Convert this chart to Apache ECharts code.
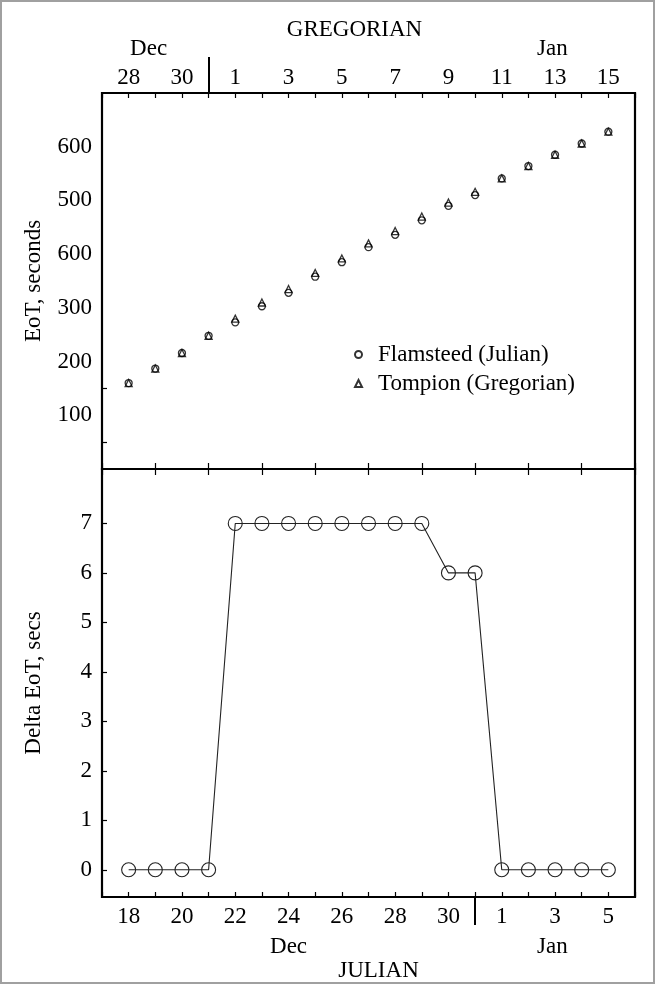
<!DOCTYPE html>
<html>
<head>
<meta charset="utf-8">
<script src="https://cdn.jsdelivr.net/npm/echarts@6/dist/echarts.min.js"></script>
<style>
  html, body { margin: 0; padding: 0; background: #fff; }
  #wrap { position: relative; width: 655px; height: 984px; }
  #chart { width: 655px; height: 984px; }
  #frame { position: absolute; left: 0; top: 0; width: 655px; height: 984px; box-sizing: border-box;
           border: 2px solid #a0a0a0; pointer-events: none; }
</style>
</head>
<body>
<div id="wrap">
  <div id="chart"></div>
  <div id="frame"></div>
</div>
<script>
// day index along both calendars (Julian Dec 18 = Gregorian Dec 28)
var dayIndex = [0, 1, 2, 3, 4, 5, 6, 7, 8, 9, 10, 11, 12, 13, 14, 15, 16, 17, 18];
var gregorianLabels = ['28', '29', '30', '31', '1', '2', '3', '4', '5', '6', '7', '8', '9', '10', '11', '12', '13', '14', '15'];
var julianLabels = ['18', '19', '20', '21', '22', '23', '24', '25', '26', '27', '28', '29', '30', '31', '1', '2', '3', '4', '5'];

// equation of time, seconds
var flamsteed = [160, 187, 216, 248, 273, 303, 328, 358, 385, 413, 436, 463, 490, 510, 541, 564, 585, 606, 628];
var tompion = [160, 187, 216, 248, 280, 310, 335, 365, 392, 420, 443, 470, 496, 516, 541, 564, 585, 606, 628];
// difference, seconds
var deltaEot = [0, 0, 0, 0, 7, 7, 7, 7, 7, 7, 7, 7, 6, 6, 0, 0, 0, 0, 0];

// y tick labels of the upper panel, as printed
var eotTickValues = [100, 200, 300, 400, 500, 600];
var eotTickLabels = ['100', '200', '300', '600', '500', '600'];
var eotMinorTicks = [50, 150];
var deltaTicks = [0, 1, 2, 3, 4, 5, 6, 7];

// month names and where they sit on the day scale
var topMonths = ['Dec', 'Jan'];
var topMonthPos = [0.75, 15.9];
var bottomMonths = ['Dec', 'Jan'];
var bottomMonthPos = [6, 15.9];
var topDivider = 3;     // Gregorian Dec 31
var bottomDivider = 13; // Julian Dec 31

var FONT = '"Liberation Serif", "DejaVu Serif", serif';
var INK = '#000';

function pairs(ys) {
  return dayIndex.map(function (d, i) { return [d, ys[i]]; });
}
function dayLabel(labels) {
  return function (v) {
    return (v >= 0 && v <= 18 && v % 2 === 0) ? labels[v] : '';
  };
}
function monthLabel(pos, names) {
  return function (v) {
    var i = pos.indexOf(v);
    return i < 0 ? '' : names[i];
  };
}

var labelStyle = { color: INK, fontFamily: FONT, fontSize: 23 };
var tickLine = { color: INK, width: 1.2 };

function dayAxis(grid, position, extra) {
  var a = {
    type: 'value', gridIndex: grid, position: position, min: -1, max: 19, interval: 1,
    axisLine: { show: false, onZero: false }, splitLine: { show: false },
    axisTick: { show: false }, axisLabel: { show: false }
  };
  for (var k in extra) a[k] = extra[k];
  return a;
}

var chart = echarts.init(document.getElementById('chart'), null, { renderer: 'canvas' });

chart.setOption({
  animation: false,
  backgroundColor: '#fff',
  grid: [
    { left: 102, top: 93, width: 533, height: 376, show: true, borderColor: '#000', borderWidth: 2.2, backgroundColor: 'transparent' },
    { left: 102, top: 469, width: 533, height: 428, show: true, borderColor: '#000', borderWidth: 2.2, backgroundColor: 'transparent' }
  ],
  xAxis: [
    // upper panel, Gregorian day labels
    dayAxis(0, 'top', {
      axisTick: { show: true, inside: true, length: 5, lineStyle: tickLine },
      axisLabel: Object.assign({ show: true, margin: 4, formatter: dayLabel(gregorianLabels) }, labelStyle)
    }),
    // month divider, month names and calendar name
    dayAxis(0, 'top', {
      name: 'GREGORIAN', nameLocation: 'middle', nameGap: 52, nameMoveOverlap: false,
      nameTextStyle: Object.assign({ padding: [0, 28, 0, 0] }, labelStyle),
      axisTick: { show: true, inside: false, length: 36, customValues: [topDivider], lineStyle: { color: INK, width: 2 } },
      axisLabel: Object.assign({ show: true, margin: 33, customValues: topMonthPos, formatter: monthLabel(topMonthPos, topMonths) }, labelStyle)
    }),
    // shared middle line ticks (upper half)
    dayAxis(0, 'bottom', {
      interval: 2,
      axisTick: { show: true, inside: true, length: 6, lineStyle: tickLine }
    }),
    // shared middle line ticks (lower half)
    dayAxis(1, 'top', {
      interval: 2,
      axisTick: { show: true, inside: true, length: 6, lineStyle: tickLine }
    }),
    // lower panel, Julian day labels
    dayAxis(1, 'bottom', {
      axisTick: { show: true, inside: true, length: 5, lineStyle: tickLine },
      axisLabel: Object.assign({ show: true, margin: 8, formatter: dayLabel(julianLabels) }, labelStyle)
    }),
    dayAxis(1, 'bottom', {
      name: 'JULIAN', nameLocation: 'middle', nameGap: 62, nameMoveOverlap: false,
      nameTextStyle: Object.assign({ padding: [0, 0, 0, 20] }, labelStyle),
      axisTick: { show: true, inside: false, length: 28, customValues: [bottomDivider], lineStyle: { color: INK, width: 2 } },
      axisLabel: Object.assign({ show: true, margin: 38, customValues: bottomMonthPos, formatter: monthLabel(bottomMonthPos, bottomMonths) }, labelStyle)
    })
  ],
  yAxis: [
    {
      type: 'value', gridIndex: 0, min: 0, max: 700, interval: 50,
      name: 'EoT, seconds', nameLocation: 'middle', nameGap: 57, nameMoveOverlap: false, nameTextStyle: labelStyle,
      axisLine: { show: false, onZero: false }, splitLine: { show: false },
      axisTick: { show: true, inside: true, length: 5, customValues: eotMinorTicks, lineStyle: tickLine },
      axisLabel: Object.assign({
        margin: 10,
        customValues: eotTickValues,
        formatter: function (v) {
          var i = eotTickValues.indexOf(v);
          return i < 0 ? '' : eotTickLabels[i];
        }
      }, labelStyle)
    },
    {
      type: 'value', gridIndex: 1, min: -0.55, max: 8.1,
      name: 'Delta EoT, secs', nameLocation: 'middle', nameGap: 57, nameMoveOverlap: false, nameTextStyle: labelStyle,
      axisLine: { show: false, onZero: false }, splitLine: { show: false },
      axisTick: { show: true, inside: true, length: 5, customValues: deltaTicks, lineStyle: tickLine },
      axisLabel: Object.assign({ margin: 10, customValues: deltaTicks }, labelStyle)
    }
  ],
  legend: {
    left: 349, top: 338, orient: 'vertical', itemWidth: 7, itemHeight: 7, itemGap: 6,
    textStyle: { color: INK, fontFamily: FONT, fontSize: 23, padding: [0, 0, 0, 11] },
    data: [
      { name: 'Flamsteed (Julian)', icon: 'circle' },
      { name: 'Tompion (Gregorian)', icon: 'triangle' }
    ]
  },
  series: [
    {
      name: 'Flamsteed (Julian)', type: 'scatter', xAxisIndex: 0, yAxisIndex: 0,
      symbol: 'circle', symbolSize: 7, data: pairs(flamsteed),
      itemStyle: { color: 'rgba(255,255,255,0)', borderColor: '#000', borderWidth: 1.3 }
    },
    {
      name: 'Tompion (Gregorian)', type: 'scatter', xAxisIndex: 0, yAxisIndex: 0,
      symbol: 'triangle', symbolSize: 7, data: pairs(tompion),
      itemStyle: { color: 'rgba(255,255,255,0)', borderColor: '#000', borderWidth: 1.3 }
    },
    {
      name: 'Delta', type: 'line', xAxisIndex: 4, yAxisIndex: 1,
      symbol: 'circle', symbolSize: 14, showAllSymbol: true, data: pairs(deltaEot),
      lineStyle: { color: '#222', width: 1.1 },
      itemStyle: { color: 'rgba(255,255,255,0)', borderColor: '#222', borderWidth: 1.1 }
    }
  ]
});
</script>
</body>
</html>
